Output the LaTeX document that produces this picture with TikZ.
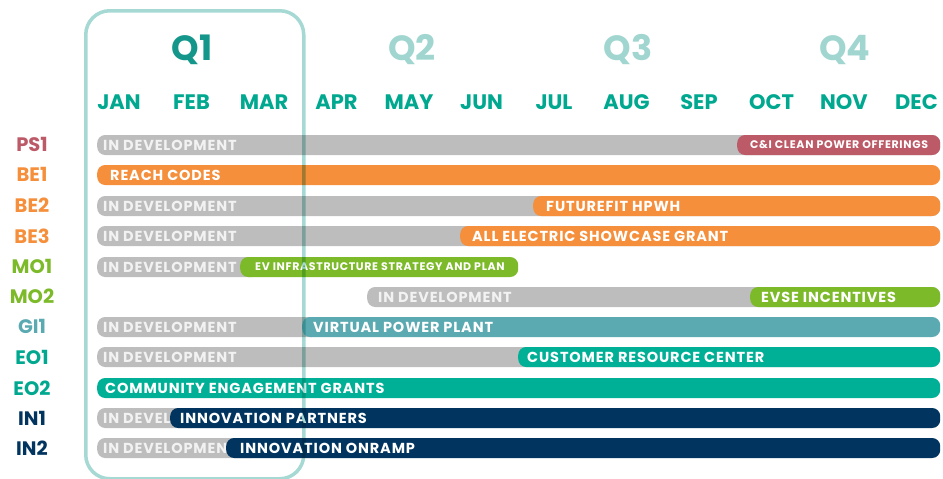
\documentclass[tikz,border=0pt]{standalone}
\usepackage{fontspec}
\setmainfont{Poppins}
\newfontfamily\barfont{Poppins}[LetterSpace=6]
\definecolor{monthc}{HTML}{00A88F}
\definecolor{qdark}{HTML}{14968A}
\definecolor{qlight}{HTML}{A0D6CF}
\definecolor{boxc}{HTML}{A6D9D3}
\definecolor{grayc}{HTML}{BDBDBD}
\definecolor{devtext}{HTML}{F2F2F2}
\definecolor{psc}{HTML}{BC5A67}
\definecolor{orangec}{HTML}{F58F3B}
\definecolor{greenc}{HTML}{7DBA2A}
\definecolor{gic}{HTML}{5BA9B1}
\definecolor{eoc}{HTML}{00B096}
\definecolor{navyc}{HTML}{01345F}
\tikzset{
  barbox/.style={draw=none, rounded corners=8pt, minimum height=20pt, inner sep=0pt, anchor=west},
  bartext/.style={text=white, inner sep=0pt, anchor=west, font=\barfont\bfseries\fontsize{14.5}{15}\selectfont},
  smalltext/.style={text=white, inner sep=0pt, anchor=west, font=\barfont\bfseries\fontsize{11}{11}\selectfont},
  devlabel/.style={text=devtext, inner sep=0pt, anchor=west, font=\barfont\bfseries\fontsize{14.5}{15}\selectfont},
  rowlabel/.style={inner sep=0pt, font=\bfseries\fontsize{19.5}{20}\selectfont},
  monthlabel/.style={inner sep=0pt, text=monthc, font=\bfseries\fontsize{21}{21}\selectfont},
  qlabel/.style={inner sep=0pt, font=\bfseries\fontsize{35}{35}\selectfont},
}
% name, colour, x1, x2, y
\newcommand\mybar[5]{\node[barbox, fill=#2, minimum width={#4-#3}] (#1) at (#3,#5) {};}
% name, bar, offset, style, text
\newcommand\mylab[5]{\node[#4] (#1) at ([xshift=#3]#2.west) {#5};}
\begin{document}
\begin{tikzpicture}[x=1pt,y=-1pt]
\useasboundingbox (0,0) rectangle (943,479);
% quarter labels
\node[qlabel, text=qdark] (q1) at (192,50) {Q1};
\node[qlabel, text=qlight] (q2) at (412,50) {Q2};
\node[qlabel, text=qlight] (q3) at (628,50) {Q3};
\node[qlabel, text=qlight] (q4) at (845,50) {Q4};
% months
\foreach \m [count=\i from 0] in {JAN,FEB,MAR,APR,MAY,JUN,JUL,AUG,SEP,OCT,NOV,DEC}
  \node[monthlabel] (m\i) at ({119+72.5*\i},102) {\m};
% row labels
\node[rowlabel, text=psc] (lps1) at (32,144) {PS1};
\node[rowlabel, text=orangec] (lbe1) at (32,174) {BE1};
\node[rowlabel, text=orangec] (lbe2) at (32,205) {BE2};
\node[rowlabel, text=orangec] (lbe3) at (32,236) {BE3};
\node[rowlabel, text=greenc] (lmo1) at (32,266) {MO1};
\node[rowlabel, text=greenc] (lmo2) at (32,296) {MO2};
\node[rowlabel, text=gic] (lgi1) at (32,326) {GI1};
\node[rowlabel, text=monthc] (leo1) at (32,357) {EO1};
\node[rowlabel, text=monthc] (leo2) at (32,388) {EO2};
\node[rowlabel, text=navyc] (lin1) at (32,418) {IN1};
\node[rowlabel, text=navyc] (lin2) at (32,448) {IN2};
% PS1
\mybar{ps1g}{grayc}{97}{940}{145}
\mylab{ps1gt}{ps1g}{6}{devlabel}{IN DEVELOPMENT}
\mybar{ps1c}{psc}{737}{940}{145}
\mylab{ps1ct}{ps1c}{13}{smalltext}{C\&I CLEAN POWER OFFERINGS}
% BE1
\mybar{be1c}{orangec}{97}{940}{175}
\mylab{be1ct}{be1c}{13}{bartext}{REACH CODES}
% BE2
\mybar{be2g}{grayc}{97}{940}{206}
\mylab{be2gt}{be2g}{6}{devlabel}{IN DEVELOPMENT}
\mybar{be2c}{orangec}{533}{940}{206}
\mylab{be2ct}{be2c}{13}{bartext}{FUTUREFIT HPWH}
% BE3
\mybar{be3g}{grayc}{97}{940}{236}
\mylab{be3gt}{be3g}{6}{devlabel}{IN DEVELOPMENT}
\mybar{be3c}{orangec}{460}{940}{236}
\mylab{be3ct}{be3c}{12}{bartext}{ALL ELECTRIC SHOWCASE GRANT}
% MO1
\mybar{mo1g}{grayc}{97}{260}{267}
\mylab{mo1gt}{mo1g}{6}{devlabel}{IN DEVELOPMENT}
\mybar{mo1c}{greenc}{240}{518}{267}
\mylab{mo1ct}{mo1c}{15}{smalltext}{EV INFRASTRUCTURE STRATEGY AND PLAN}
% MO2
\mybar{mo2g}{grayc}{367}{940}{297}
\mylab{mo2gt}{mo2g}{11}{devlabel}{IN DEVELOPMENT}
\mybar{mo2c}{greenc}{750}{940}{297}
\mylab{mo2ct}{mo2c}{11}{bartext}{EVSE INCENTIVES}
% GI1
\mybar{gi1g}{grayc}{97}{320}{327}
\mylab{gi1gt}{gi1g}{6}{devlabel}{IN DEVELOPMENT}
\mybar{gi1c}{gic}{302}{940}{327}
\mylab{gi1ct}{gi1c}{11}{bartext}{VIRTUAL POWER PLANT}
% EO1
\mybar{eo1g}{grayc}{97}{940}{357}
\mylab{eo1gt}{eo1g}{6}{devlabel}{IN DEVELOPMENT}
\mybar{eo1c}{eoc}{518}{940}{357}
\mylab{eo1ct}{eo1c}{9}{bartext}{CUSTOMER RESOURCE CENTER}
% EO2
\mybar{eo2c}{eoc}{97}{940}{388}
\mylab{eo2ct}{eo2c}{8}{bartext}{COMMUNITY ENGAGEMENT GRANTS}
% IN1
\mybar{in1g}{grayc}{97}{200}{418}
\mylab{in1gt}{in1g}{6}{devlabel}{IN DEVEL}
\mybar{in1c}{navyc}{170}{940}{418}
\mylab{in1ct}{in1c}{10}{bartext}{INNOVATION PARTNERS}
% IN2
\mybar{in2g}{grayc}{97}{260}{448}
\mylab{in2gt}{in2g}{6}{devlabel}{IN DEVELOPMEN}
\mybar{in2c}{navyc}{226}{940}{448}
\mylab{in2ct}{in2c}{14}{bartext}{INNOVATION ONRAMP}
% Q1 frame
\begin{scope}[blend mode=multiply]
\node[draw=boxc, line width=3.5pt, rounded corners=24pt, inner sep=0pt,
      minimum width=218pt, minimum height=468pt, anchor=north west] (q1box) at (84,9) {};
\end{scope}
\end{tikzpicture}
\end{document}
